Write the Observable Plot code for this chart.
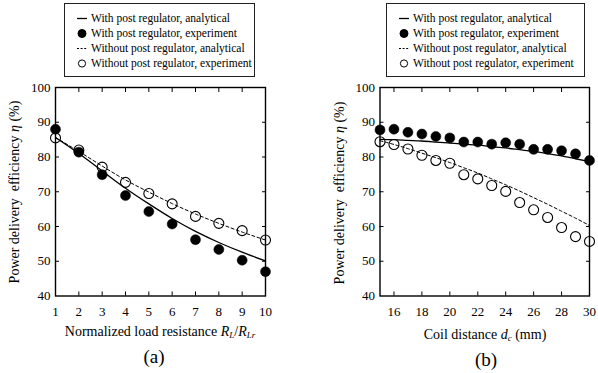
<!DOCTYPE html>
<html>
<head>
<meta charset="utf-8">
<script src="https://cdn.jsdelivr.net/npm/d3@7"></script>
<script src="https://cdn.jsdelivr.net/npm/@observablehq/plot@0.6"></script>
<style>
  body { margin: 0; background: #fff; }
  #fig { position: relative; width: 598px; height: 373px; overflow: hidden;
         font-family: "Liberation Serif", "Times New Roman", serif; color: #000; background: #fff; }
  .legend { position: absolute; top: 3px; height: 74px; border: 1px solid #222; box-sizing: border-box; font-size: 11.5px; }
  .legend .sym { position: absolute; left: 11px; width: 12px; height: 14px; }
  .legend .txt { position: absolute; left: 26px; height: 14px; line-height: 14px; white-space: nowrap; }
  .panel { position: absolute; top: 80px; }
  .ylab { position: absolute; width: 220px; height: 16px; line-height: 16px; font-size: 14px; text-align: center;
          white-space: pre; transform: translate(-50%, -50%) rotate(-90deg); }
  .xlab { position: absolute; font-size: 14px; line-height: 14px; white-space: nowrap; transform: translateX(-50%); }
  .cap { position: absolute; font-size: 19px; line-height: 19px; transform: translateX(-50%); }
  .xlab sub { font-size: 9px; vertical-align: -2px; line-height: 0; }
</style>
</head>
<body>
<div id="fig"></div>
<script>
// Series legend
const seriesNames = [
  "With post regulator, analytical",
  "With post regulator, experiment",
  "Without post regulator, analytical",
  "Without post regulator, experiment"
];
const seriesKinds = ["solid", "filled", "dashed", "open"];

// Panel (a): efficiency vs normalized load resistance
const loadRatio = [1, 2, 3, 4, 5, 6, 7, 8, 9, 10];
const withRegExpA = [88.0, 81.4, 74.9, 68.9, 64.3, 60.7, 56.2, 53.4, 50.3, 47.0];
const withoutRegExpA = [85.5, 82.0, 77.1, 72.7, 69.5, 66.5, 62.9, 60.9, 58.8, 56.1];
const withRegCalcA = [85.6, 81.0, 76.0, 71.0, 66.5, 62.3, 58.6, 55.4, 52.6, 50.1];
const withoutRegCalcA = [85.6, 81.6, 77.4, 73.4, 69.9, 66.6, 63.6, 60.9, 58.4, 56.1];
const xTickLabelsA = [1, 2, 3, 4, 5, 6, 7, 8, 9, 10];
const xTickMarksA = [2, 3, 4, 5, 6, 7, 8, 9];

// Panel (b): efficiency vs coil distance (mm)
const coilDistance = [15, 16, 17, 18, 19, 20, 21, 22, 23, 24, 25, 26, 27, 28, 29, 30];
const withRegExpB = [87.8, 88.0, 87.1, 86.6, 85.9, 85.5, 84.3, 84.3, 83.7, 84.1, 83.7, 82.2, 82.2, 81.8, 80.9, 79.0];
const withoutRegExpB = [84.4, 83.6, 82.3, 80.5, 79.0, 78.2, 74.9, 73.7, 71.8, 70.1, 66.9, 64.8, 62.6, 59.7, 57.1, 55.7];
const withRegCalcB = [85.1, 85.0, 84.8, 84.6, 84.3, 84.0, 83.7, 83.4, 83.0, 82.6, 82.1, 81.6, 81.0, 80.3, 79.5, 78.7];
const withoutRegCalcB = [84.7, 83.6, 82.4, 81.1, 79.8, 78.4, 76.9, 75.4, 73.7, 72.0, 70.2, 68.3, 66.4, 64.4, 62.4, 60.3];
const xTickLabelsB = [16, 18, 20, 22, 24, 26, 28, 30];
const xTickMarksB = [16, 18, 20, 22, 24, 26, 28];

const yTickLabels = [40, 50, 60, 70, 80, 90, 100];
const yTickMarks = [50, 60, 70, 80, 90];

const fig = document.getElementById("fig");

function symbolSvg(kind) {
  const ns = "http://www.w3.org/2000/svg";
  const svg = document.createElementNS(ns, "svg");
  svg.setAttribute("class", "sym");
  svg.setAttribute("width", 12);
  svg.setAttribute("height", 14);
  let el;
  if (kind === "solid" || kind === "dashed") {
    el = document.createElementNS(ns, "line");
    el.setAttribute("x1", 1); el.setAttribute("x2", 11);
    el.setAttribute("y1", 7.5); el.setAttribute("y2", 7.5);
    el.setAttribute("stroke", "#000");
    el.setAttribute("stroke-width", kind === "solid" ? 1.3 : 1);
    if (kind === "dashed") el.setAttribute("stroke-dasharray", "2,1.6");
  } else {
    el = document.createElementNS(ns, "circle");
    el.setAttribute("cx", 6); el.setAttribute("cy", 7.5); el.setAttribute("r", kind === "filled" ? 4 : 3.6);
    el.setAttribute("fill", kind === "filled" ? "#000" : "none");
    el.setAttribute("stroke", "#000");
    el.setAttribute("stroke-width", 1);
  }
  svg.appendChild(el);
  return svg;
}

function legend(left, width) {
  const box = document.createElement("div");
  box.className = "legend";
  box.style.left = left + "px";
  box.style.width = width + "px";
  seriesNames.forEach((name, i) => {
    const top = 6.5 + i * 15.1;
    const sym = symbolSvg(seriesKinds[i]);
    sym.style.top = top + "px";
    box.appendChild(sym);
    const t = document.createElement("span");
    t.className = "txt";
    t.style.top = top + "px";
    t.textContent = name;
    box.appendChild(t);
  });
  fig.appendChild(box);
}

function panel({xs, withExp, withoutExp, withCalc, withoutCalc, xDomain, xTickLabels, xTickMarks, left, marginLeft, marginRight}) {
  const rows = xs.map((x, i) => ({x, withExp: withExp[i], withoutExp: withoutExp[i], withCalc: withCalc[i], withoutCalc: withoutCalc[i]}));
  const chart = Plot.plot({
    width: 299,
    height: 245,
    marginTop: 7,
    marginBottom: 29.5,
    marginLeft,
    marginRight,
    x: {domain: xDomain},
    y: {domain: [40, 100]},
    style: {fontFamily: "'Liberation Serif', 'Times New Roman', serif", fontSize: "13px", color: "#000", background: "transparent", overflow: "visible"},
    marks: [
      Plot.line(rows, {x: "x", y: "withCalc", curve: "natural", stroke: "#000", strokeWidth: 1.3}),
      Plot.line(rows, {x: "x", y: "withoutCalc", curve: "natural", stroke: "#000", strokeWidth: 1, strokeDasharray: "3,2.5"}),
      Plot.dot(rows, {x: "x", y: "withExp", r: 5, fill: "#000", stroke: "#000", strokeWidth: 0.5}),
      Plot.dot(rows, {x: "x", y: "withoutExp", r: 5, fill: "none", stroke: "#000", strokeWidth: 1.1}),
      Plot.axisX(xTickLabels, {anchor: "bottom", tickSize: 0, tickPadding: 11, label: null}),
      Plot.axisX(xTickMarks, {anchor: "bottom", tickSize: -4, fill: "none", label: null}),
      Plot.axisX(xTickMarks, {anchor: "top", tickSize: -4, fill: "none", label: null}),
      Plot.axisY(yTickLabels, {anchor: "left", tickSize: 0, tickPadding: 5, label: null}),
      Plot.axisY(yTickMarks, {anchor: "left", tickSize: -4, fill: "none", label: null}),
      Plot.axisY(yTickMarks, {anchor: "right", tickSize: -4, fill: "none", label: null}),
      Plot.frame({stroke: "#000", strokeWidth: 1.4})
    ]
  });
  const wrap = document.createElement("div");
  wrap.className = "panel";
  wrap.style.left = left + "px";
  wrap.style.width = "299px";
  chart.style.width = "299px";
  chart.style.maxWidth = "none";
  wrap.appendChild(chart);
  fig.appendChild(wrap);
}

function html(cls, x, y, content) {
  const d = document.createElement("div");
  d.className = cls;
  d.style.left = x + "px";
  d.style.top = y + "px";
  d.innerHTML = content;
  fig.appendChild(d);
}

legend(64, 191);
legend(386, 199);

panel({xs: loadRatio, withExp: withRegExpA, withoutExp: withoutRegExpA, withCalc: withRegCalcA, withoutCalc: withoutRegCalcA,
       xDomain: [1, 10], xTickLabels: xTickLabelsA, xTickMarks: xTickMarksA, left: 0, marginLeft: 55, marginRight: 34});
panel({xs: coilDistance, withExp: withRegExpB, withoutExp: withoutRegExpB, withCalc: withRegCalcB, withoutCalc: withoutRegCalcB,
       xDomain: [15, 30], xTickLabels: xTickLabelsB, xTickMarks: xTickMarksB, left: 299, marginLeft: 80.5, marginRight: 9});

const yTitle = "Power delivery  efficiency <i>η</i> (%)";
html("ylab", 15, 192, yTitle);
html("ylab", 340, 193, yTitle);
html("xlab", 160, 325, "Normalized load resistance <i>R<sub>L</sub></i>/<i>R<sub>Lr</sub></i>");
html("xlab", 485, 327.5, "Coil distance <i>d<sub>c</sub></i> (mm)");
html("cap", 154, 347, "(a)");
html("cap", 486, 350, "(b)");
</script>
</body>
</html>
